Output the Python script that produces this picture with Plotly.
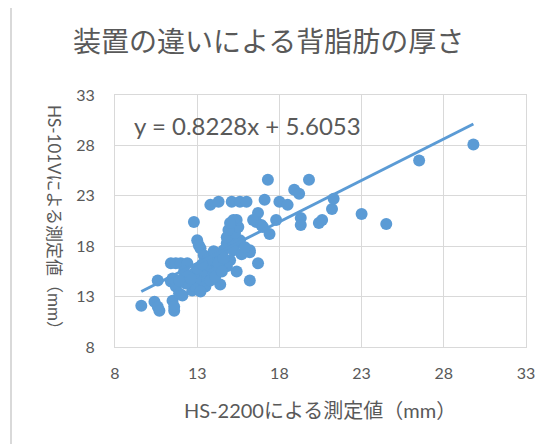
import plotly.graph_objects as go

# --- data ---
hs2200 = [
    9.6, 10.4, 10.6, 10.7, 10.6, 11.4, 11.5, 11.6, 11.6, 11.7, 11.9, 12.1,
    11.4, 11.7, 12.0, 12.4, 11.5, 12.7, 12.9, 13.0, 13.2, 13.6, 13.4, 13.8,
    14.0, 14.4, 14.6, 14.8, 15.1, 15.4, 15.6, 15.2, 15.0, 14.8, 14.2, 14.0,
    13.0, 13.2, 13.4, 13.6, 15.0, 14.8, 15.3, 15.5, 13.1, 12.8, 13.8, 14.3,
    15.1, 15.6, 16.0, 17.1, 17.3, 18.0, 18.5, 18.9, 19.2, 19.8, 16.7, 16.6,
    16.4, 16.9, 15.4, 15.2, 14.9, 15.0, 17.0, 17.4, 17.8, 19.3, 19.3, 20.4,
    20.6, 21.2, 21.3, 23.0, 24.5, 26.5, 29.8, 16.2, 16.7, 15.4, 16.2, 14.4,
    16.2, 12.3, 12.5, 12.8, 13.0, 13.3, 13.5, 13.8, 14.1, 14.3, 14.6, 14.5,
    13.2, 12.6, 12.2, 11.9, 14.0, 15.7, 15.9,
]
hs101v = [
    12.1, 12.5, 12.0, 11.6, 14.6, 14.5, 12.6, 11.6, 12.0, 14.0, 13.3, 13.1,
    16.3, 16.3, 16.3, 16.3, 14.8, 13.6, 14.0, 14.6, 14.8, 14.6, 15.6, 16.0,
    16.6, 17.0, 17.6, 18.3, 18.6, 18.3, 18.6, 17.6, 16.6, 16.0, 15.6, 15.3,
    18.6, 17.8, 17.1, 16.6, 19.6, 18.9, 19.3, 19.9, 18.1, 20.4, 22.1, 22.4,
    22.4, 22.4, 22.4, 22.6, 24.6, 22.4, 22.1, 23.6, 23.2, 24.6, 21.3, 20.4,
    20.6, 20.1, 20.6, 20.6, 19.6, 20.3, 19.9, 19.2, 20.6, 20.8, 20.1, 20.3,
    20.6, 21.7, 22.7, 21.2, 20.2, 26.5, 28.1, 17.6, 16.3, 15.5, 14.6, 14.2,
    17.4, 14.3, 15.0, 15.3, 15.8, 16.2, 14.0, 14.6, 15.0, 16.3, 16.8, 15.5,
    13.5, 14.8, 15.5, 14.6, 17.5, 17.2, 17.9,
]
slope = 0.8228
intercept = 5.6053
tick_vals = [8, 13, 18, 23, 28, 33]

title_text = "装置の違いによる背脂肪の厚さ"
x_title = "HS-2200による測定値（mm）"
y_title = "HS-101Vによる測定値（mm）"
eq_text = "y = 0.8228x + 5.6053"

blue = "#5B9BD5"
grey_txt = "#595959"
grid = "#D9D9D9"
font_fam = "Lato, Noto Sans CJK JP, sans-serif"
cjk_fam = "Noto Sans CJK JP, sans-serif"

x_line = [min(hs2200), max(hs2200)]
y_line = [slope * v + intercept for v in x_line]

fig = go.Figure()
fig.add_trace(go.Scatter(
    x=hs2200, y=hs101v, mode="markers",
    marker=dict(color=blue, size=12, line=dict(width=0)),
    showlegend=False, hoverinfo="skip",
))
fig.add_trace(go.Scatter(
    x=x_line, y=y_line, mode="lines",
    line=dict(color=blue, width=3),
    showlegend=False, hoverinfo="skip",
))

axis_common = dict(
    range=[8, 33], tickvals=tick_vals, ticktext=[str(v) for v in tick_vals],
    showgrid=True, gridcolor=grid, gridwidth=1,
    showline=True, linecolor=grid, linewidth=1, mirror=True,
    zeroline=False, ticks="",
    tickfont=dict(family=font_fam, size=16, color=grey_txt),
    fixedrange=True,
)

# page body has an 8px margin, so the plot-area margins are reduced by 8
OFF = 8
PL, PT, PW, PH = 115, 95, 411, 252  # target plot area in page pixels


def px(xp):
    return (xp - PL) / PW


def py(yp):
    return (PT + PH - yp) / PH


fig.update_layout(
    width=558, height=444,
    margin=dict(l=PL - OFF, r=558 - (PL - OFF) - PW, t=PT - OFF, b=444 - (PT - OFF) - PH),
    paper_bgcolor="white", plot_bgcolor="white",
    xaxis=dict(**axis_common, ticklabelstandoff=12),
    yaxis=dict(**axis_common, ticklabelstandoff=16),
    annotations=[
        dict(text=title_text, xref="paper", yref="paper",
             x=px(268), y=py(40),
             xanchor="center", yanchor="middle", showarrow=False,
             font=dict(family=cjk_fam, size=28, color=grey_txt)),
        dict(text=x_title, xref="paper", yref="paper",
             x=px(320), y=py(410),
             xanchor="center", yanchor="middle", showarrow=False,
             font=dict(family=font_fam, size=20, color=grey_txt)),
        dict(text=y_title, xref="paper", yref="paper",
             x=px(55), y=py(221), textangle=90,
             xanchor="center", yanchor="middle", showarrow=False,
             font=dict(family=font_fam, size=17, color=grey_txt)),
        dict(text=eq_text, xref="paper", yref="paper",
             x=px(132), y=py(125),
             xanchor="left", yanchor="middle", showarrow=False,
             font=dict(family=font_fam, size=24, color=grey_txt)),
    ],
    shapes=[
        dict(type="rect", xref="paper", yref="paper",
             x0=px(11), x1=px(620), y0=py(520), y1=py(7),
             line=dict(color=grid, width=2), layer="below"),
    ],
)

fig.write_html("out.html")
